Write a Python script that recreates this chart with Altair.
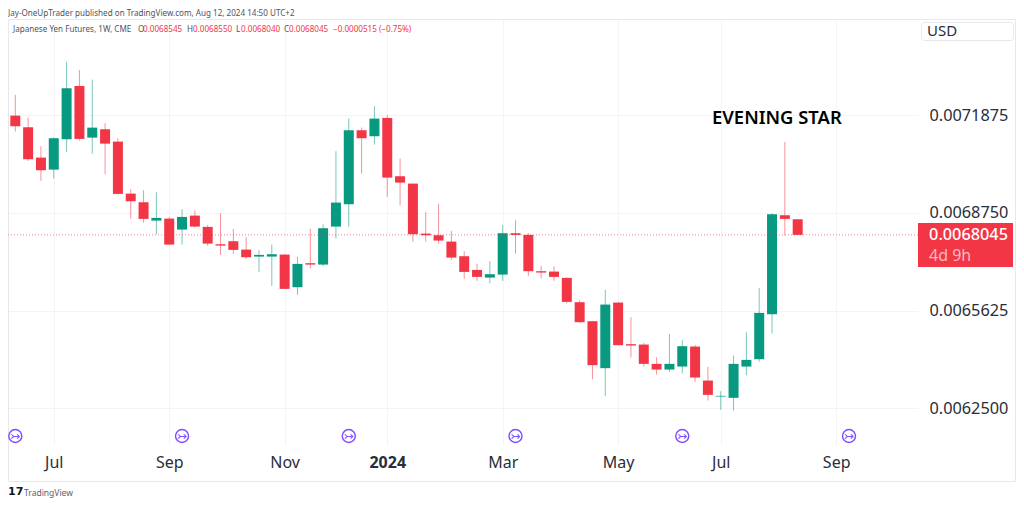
import altair as alt
import pandas as pd

highs = [72525,71799,70883,71171,73591,73325,73015,71619,71139,69507,69475,69411,68621,68867,68823,68365,68739,68237,67971,67555,67735,67427,67341,68247,68387,70723,71767,71479,72173,71875,70487,69687,68771,69037,68173,67523,67117,67203,68365,68515,68099,67053,67043,66691,65955,65293,66285,65891,65411,64589,64131,64877,64675,64525,63821,63043,64183,64931,66339,68739,71021,68550]
tops = [71863,71491,70519,71139,72739,72813,71479,71427,71031,69367,69091,68589,68567,68621,68663,68301,67747,67843,67575,67405,67427,67415,67117,67139,68259,69079,71395,71395,71767,71789,69923,69687,68087,68035,67831,67363,66925,66787,68099,68099,68045,66883,66871,66669,65891,65283,65815,65879,64547,64535,63917,63917,64483,64471,63383,62893,63917,64045,65549,68707,68675,68545]
bottoms = [71523,70467,70115,70135,71107,71117,71159,70967,69357,69123,68557,68503,67735,68215,68311,67767,67703,67565,67331,67351,67351,66317,66371,67095,67095,68311,69027,71139,71203,69879,69719,68067,68035,67863,67319,66861,66701,66679,66775,68045,66883,66839,66701,65901,65251,63875,63779,64515,64503,63917,63735,63735,63831,63479,62925,62871,62829,63831,64067,65507,68557,68045]
lows = [71351,70413,69773,69847,70701,71063,70647,69987,69340,68567,68439,68067,67715,67735,68279,67693,67405,67447,67277,66861,66413,66317,66125,66967,67043,67927,68311,70007,70935,69261,68995,67821,67831,67767,67245,66637,66573,66499,66573,67447,66723,66647,66573,65847,65229,63427,62883,64515,64119,63831,63575,63661,63607,63341,62743,62445,62423,63555,63991,64887,68023,68040]
bullish = [0,0,0,1,1,0,1,0,0,0,0,1,0,1,0,0,0,0,0,1,1,0,1,0,1,1,1,0,1,0,0,0,0,0,0,0,0,1,1,0,0,0,0,0,0,0,1,0,0,0,0,1,1,0,0,1,1,1,1,1,0,0]

tick_weeks = [3, 12, 21, 29, 38, 47, 55, 64]
tick_labels = ["Jul", "Sep", "Nov", "2024", "Mar", "May", "Jul", "Sep"]
price_ticks = [0.0062500, 0.0065625, 0.0068750, 0.0071875]
idea_weeks = [0, 13, 26, 39, 52, 65]
last_price = 0.0068045

RED = "#f23645"
GREEN = "#089981"
GRID = "#f2f4f8"
BORDER = "#e6e8ee"
INK = "#131722"
FONT = "Noto Sans"

df = pd.DataFrame({
    "week": range(len(highs)),
    "high": [v / 1e7 for v in highs],
    "top": [v / 1e7 for v in tops],
    "bottom": [v / 1e7 for v in bottoms],
    "low": [v / 1e7 for v in lows],
    "dir": ["up" if b else "down" for b in bullish],
})

xscale = alt.Scale(domain=[-0.569, 70.38], nice=False, zero=False, padding=0)
yscale = alt.Scale(domain=[0.006132, 0.0074924], nice=False, zero=False)
color = alt.Color("dir:N", scale=alt.Scale(domain=["up", "down"], range=[GREEN, RED]), legend=None)

label_expr = "[" + ",".join(f"'{t}'" for t in tick_labels) + "][indexof([" + ",".join(map(str, tick_weeks)) + "], datum.value)]"
xaxis = alt.Axis(
    values=tick_weeks, labelExpr=label_expr, title=None, grid=True, gridColor=GRID, gridWidth=1,
    domain=False, ticks=False, labelPadding=9, labelFontSize=16, labelFont=FONT, labelColor="#2a2e39",
    labelFontWeight={"condition": {"test": "datum.value == 29", "value": 700}, "value": 400},
    labelOverlap=False, labelFlush=False,
)
yaxis = alt.Axis(
    values=price_ticks, format=".7f", orient="right", title=None, grid=True, gridColor=GRID, gridWidth=1,
    domain=False, ticks=False, labelPadding=11, labelFontSize=16.3, labelFont=FONT, labelColor="#2a2e39",
)

one = pd.DataFrame({"a": [0]})


def label(text, px, py, size=9, col="#50535e", align="left", weight=400, font=FONT):
    # px, py are page pixels; the plot area's origin sits at (8, 20)
    return alt.Chart(one).mark_text(
        text=text, fontSize=size, color=col, align=align, baseline="middle",
        fontWeight=weight, font=font,
    ).encode(x=alt.value(px - 8), y=alt.value(py - 20))


def box(x0, x1, y0, y1, fill, stroke=None, radius=0):
    kw = {"fill": fill, "cornerRadius": radius}
    if stroke:
        kw["stroke"] = stroke
        kw["strokeWidth"] = 1
    return alt.Chart(one).mark_rect(**kw).encode(
        x=alt.value(x0 - 8), x2=alt.value(x1 - 8), y=alt.value(y0 - 20), y2=alt.value(y1 - 20)
    )


frame = box(8.5, 1015.5, 19.5, 481.5, "transparent", BORDER)

wicks = alt.Chart(df).mark_rule(strokeWidth=1, opacity=0.55).encode(
    x=alt.X("week:Q", scale=xscale, axis=xaxis),
    y=alt.Y("high:Q", scale=yscale, axis=yaxis),
    y2="low:Q",
    color=color,
)
bodies = alt.Chart(df).mark_bar(size=10).encode(
    x=alt.X("week:Q", scale=xscale),
    y=alt.Y("top:Q", scale=yscale),
    y2="bottom:Q",
    color=color,
)
last_line = alt.Chart(pd.DataFrame({"p": [last_price]})).mark_rule(
    color=RED, strokeWidth=1, strokeDash=[1, 2], opacity=0.6
).encode(y=alt.Y("p:Q", scale=yscale))

icon_df = pd.DataFrame({"week": idea_weeks})
icons = alt.Chart(icon_df).mark_point(
    shape="circle", size=170, filled=False, color="#7e4dff", strokeWidth=1.4, opacity=1
).encode(x=alt.X("week:Q", scale=xscale), y=alt.value(416))
icon_glyphs = alt.Chart(icon_df).mark_text(
    text="\u21a3", fontSize=12, color="#7e4dff", font="DejaVu Sans", baseline="middle"
).encode(x=alt.X("week:Q", scale=xscale), y=alt.value(416))

texts = [
    label("Jay-OneUpTrader published on TradingView.com, Aug 12, 2024 14:50 UTC+2", 8, 14, 8.1),
    label("Japanese Yen Futures, 1W, CME", 13, 30, 8.1),
    label("O", 138, 30, 8.1), label("0.0068545", 143, 30, 8.1, RED),
    label("H", 187, 30, 8.1), label("0.0068550", 193, 30, 8.1, RED),
    label("L", 236, 30, 8.1), label("0.0068040", 241, 30, 8.1, RED),
    label("C", 284, 30, 8.1), label("0.0068045", 289, 30, 8.1, RED),
    label("\u22120.0000515 (\u22120.75%)", 333, 30, 8.1, RED),
    label("EVENING STAR", 712, 118, 18.4, "#000000", weight=600),
    label("USD", 927, 31, 15, "#2a2e39"),
    label("0.0068045", 1008, 235, 16.3, "#ffffff", align="right", weight=500),
    label("4d 9h", 929, 256, 16, "#fbb9c0"),
    label("TradingView", 24, 492.5, 8.5, "#5d606b"),
    label("17", 8, 492, 11, "#131722", weight=700, font="DejaVu Sans"),
]

chart = alt.layer(
    frame,
    wicks,
    bodies,
    last_line,
    box(918, 1013, 223, 267, RED),
    box(921.5, 1013.5, 22.5, 40.5, "#ffffff", BORDER, 3),
    icons,
    icon_glyphs,
    *texts,
).properties(
    width=910, height=425,
    padding={"left": 0, "top": 12, "right": 98, "bottom": 53},
    autosize=alt.AutoSizeParams(type="none"),
    background="#ffffff",
).configure_view(stroke=None)

chart.save("out.html", embed_options={"renderer": "svg", "actions": False})
